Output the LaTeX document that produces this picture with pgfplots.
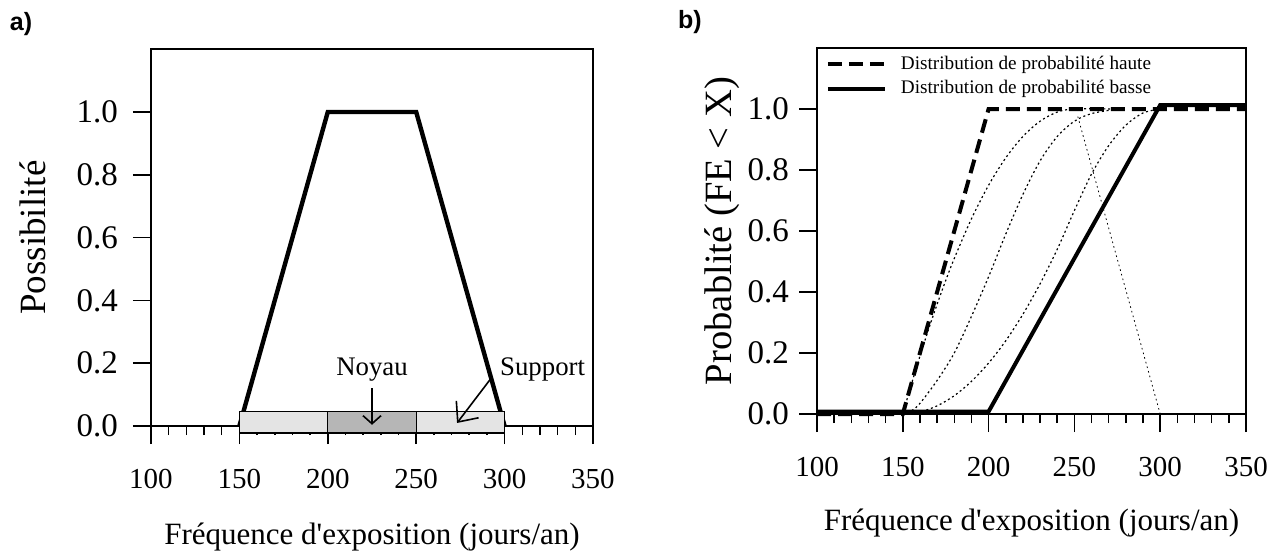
\documentclass[border=0pt]{standalone}
\usepackage{fontspec}
\setmainfont{Liberation Serif}
\setsansfont{Liberation Sans}
\usepackage{pgfplots}
\pgfplotsset{compat=1.18}
\usetikzlibrary{arrows.meta}

\definecolor{supp}{RGB}{228,228,228}
\definecolor{noy}{RGB}{182,182,182}
\newcommand{\fs}[1]{\fontsize{#1}{#1}\selectfont}

\pgfplotsset{
  panel/.style={
    scale only axis,
    xmin=100, xmax=350, ymin=0, ymax=1.2,
    xtick={100,150,200,250,300,350},
    ytick={0,0.2,0.4,0.6,0.8,1.0},
    minor x tick num=4,
    tick align=outside,
    xtick pos=left, ytick pos=left,
    major tick length=9pt,
    minor tick length=4.5pt,
    axis line style={line width=0.75pt},
    every tick/.style={black, line width=0.75pt},
    /pgf/number format/assume math mode=true,
    yticklabel style={font=\fs{16.5}, /pgf/number format/.cd, fixed, fixed zerofill, precision=1},
    xticklabel style={font=\fs{14.5}},
    xticklabel shift=9pt,
    clip=false,
  }
}

\begin{document}
\begin{tikzpicture}
\path[use as bounding box] (0,0) rectangle (635pt,-276pt);
\node[font=\sffamily\bfseries\fs{12.5}] at (10.5pt,-12pt) {a)};
\node[font=\sffamily\bfseries\fs{12.5}] at (345pt,-11pt) {b)};

% panel a: possibility distribution
\begin{axis}[panel,
  at={(75.5pt,-213pt)}, anchor=south west,
  width=221pt, height=188.4pt,
  yticklabel shift=4pt,
  every axis y label/.style={at={(axis description cs:-0.267,0.5)}, rotate=90, anchor=center, font=\fs{18.5}},
  every axis x label/.style={at={(axis description cs:0.5,-0.295)}, anchor=center, font=\fs{15.5}},
  xlabel={Fréquence d\textquotesingle exposition (jours/an)},
  ylabel={Possibilité},
]
\addplot[black, line width=2.2pt, line join=miter] coordinates {(150,0) (200,1) (250,1) (300,0)};
\addplot[draw=black, line width=0.6pt, fill=supp] coordinates {(150,-0.022) (300,-0.022) (300,0.045) (150,0.045)} -- cycle;
\addplot[draw=black, line width=0.6pt, fill=noy] coordinates {(200,-0.022) (250,-0.022) (250,0.045) (200,0.045)} -- cycle;
\draw[line width=0.8pt, -{Straight Barb[length=4pt,width=9pt]}] (axis cs:225,0.12) -- (axis cs:225,0.004);
\node[anchor=base, font=\fs{13.4}] at (axis cs:225,0.162) {Noyau};
\draw[line width=0.8pt, -{Straight Barb[length=8pt,width=14pt]}] (axis cs:292.9,0.156) -- (axis cs:273.1,0.0096);
\node[anchor=base, font=\fs{13.4}] at (axis cs:321.5,0.162) {Support};
\end{axis}

% panel b: probability bounds
\begin{axis}[panel,
  at={(408.5pt,-207pt)}, anchor=south west,
  width=214.5pt, height=183pt,
  yticklabel shift=1.5pt,
  every axis y label/.style={at={(axis description cs:-0.2214,0.5)}, rotate=90, anchor=center, font=\fs{19.3}},
  every axis x label/.style={at={(axis description cs:0.5,-0.298)}, anchor=center, font=\fs{15.5}},
  xlabel={Fréquence d\textquotesingle exposition (jours/an)},
  ylabel={Probablité (FE < X)},
  legend cell align=left,
  legend style={draw=none, fill=none, at={(axis description cs:0.02,0.99)}, anchor=north west,
    font=\fs{9.6}, inner sep=0pt, row sep=0pt,
    nodes={inner xsep=7pt}},
  legend image code/.code={\draw[#1] (0pt,0pt) -- (28.5pt,0pt);},
]
\addplot[forget plot, black, line width=0.6pt, dash pattern=on 1pt off 1.4pt, smooth] coordinates {
  (150,0) (155,0.0975) (160,0.19) (165,0.2775) (170,0.36) (175,0.4375) (180,0.51)
  (190,0.64) (200,0.75) (210,0.84) (220,0.91) (230,0.96) (240,0.99) (250,1.0) (275,1.0)};
\addplot[forget plot, black, line width=0.6pt, dash pattern=on 1pt off 1.4pt, smooth] coordinates {
  (150,0) (155,0.01) (160,0.035) (170,0.11) (180,0.2) (190,0.32) (200,0.45) (210,0.59)
  (220,0.72) (230,0.83) (240,0.91) (250,0.96) (260,0.985) (275,1.0)};
\addplot[forget plot, black, line width=0.6pt, dash pattern=on 1pt off 1.4pt, smooth] coordinates {
  (150,0) (160,0.0067) (170,0.0267) (180,0.06) (190,0.107) (200,0.167) (210,0.24) (220,0.327)
  (230,0.427) (240,0.54) (250,0.667) (260,0.787) (270,0.88) (280,0.947) (290,0.987) (300,1.0)};
\addplot[forget plot, black, line width=0.4pt, dash pattern=on 0.8pt off 1.6pt] coordinates {(252,0.975) (300,0)};
\addplot[black, line width=2pt, dash pattern=on 7pt off 3.5pt] coordinates {(100,0) (150,0) (200,1) (350,1)};
\addlegendentry{Distribution de probabilité haute}
\addplot[black, line width=2pt, line join=miter] coordinates {(100,0.008) (200,0.008) (300,1.013) (350,1.013)};
\addlegendentry{Distribution de probabilité basse}
\end{axis}
\end{tikzpicture}
\end{document}
